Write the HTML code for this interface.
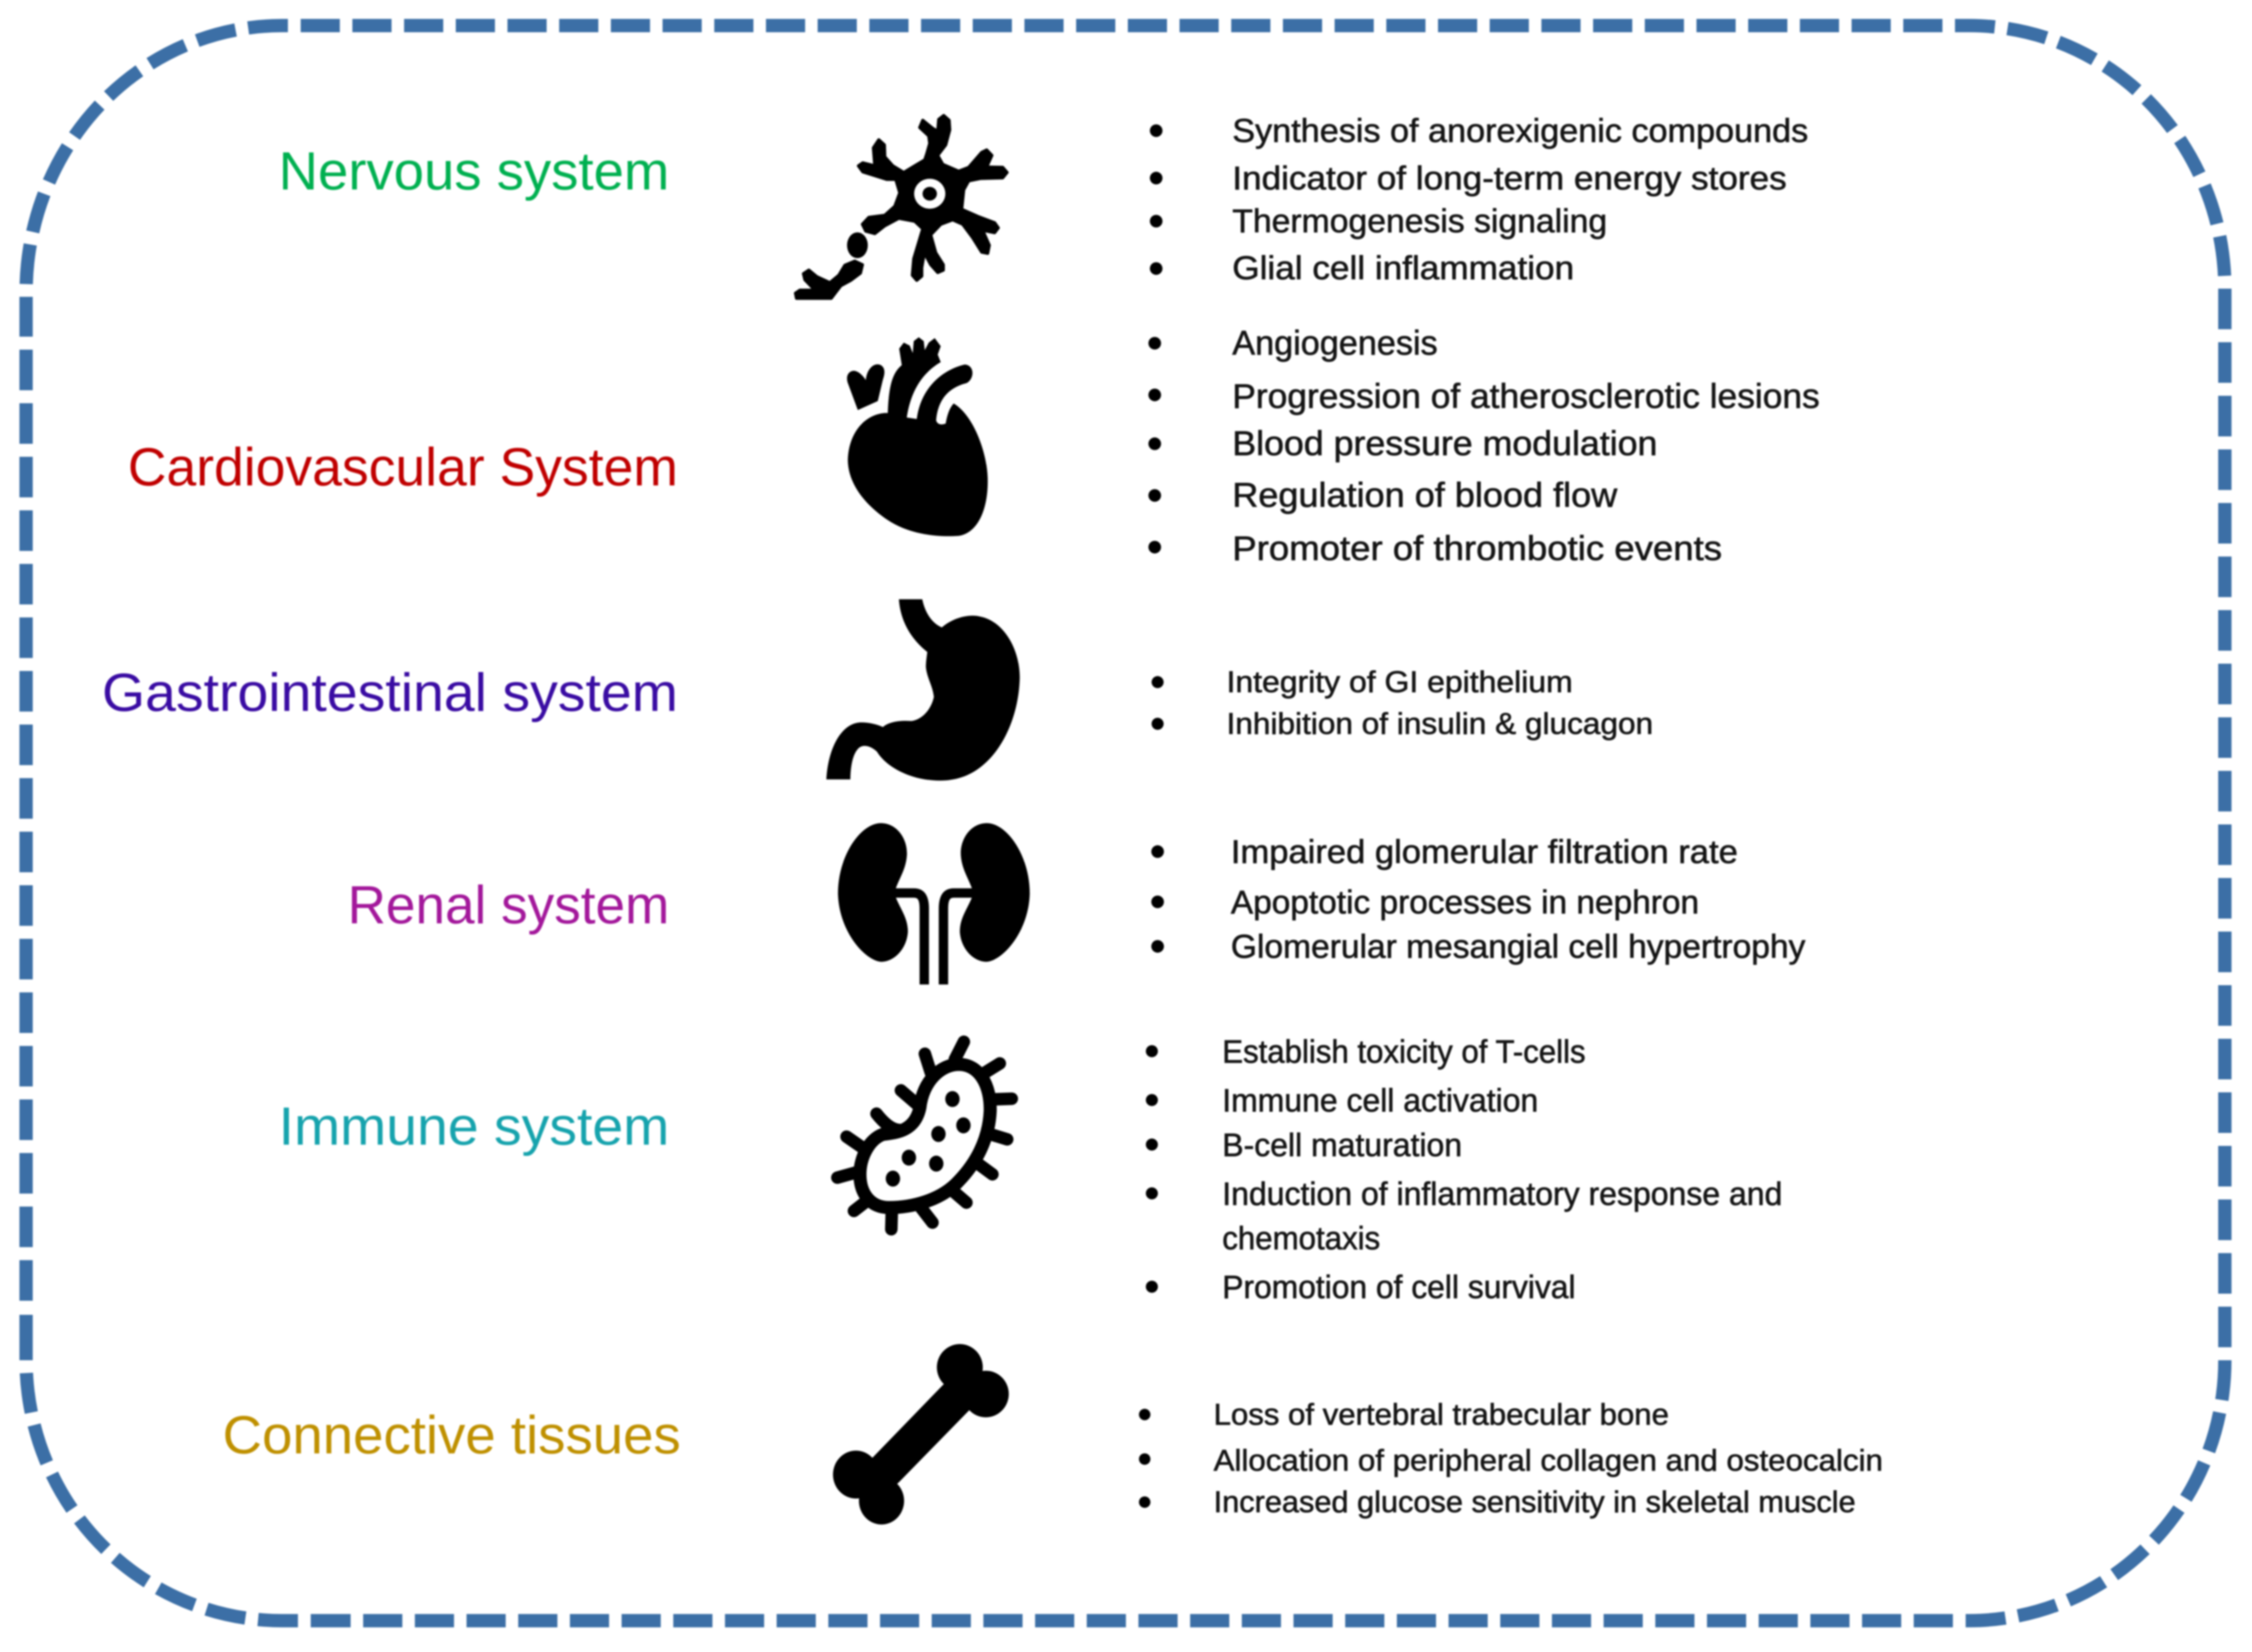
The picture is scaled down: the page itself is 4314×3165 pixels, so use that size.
<!DOCTYPE html>
<html><head><meta charset="utf-8"><style>
html,body{margin:0;padding:0;background:#fff}
svg{display:block;filter:blur(1.5px)}
text{font-family:"Liberation Sans",sans-serif}
.l{font-size:37.5px}
.b text{fill:#141414;stroke:#141414;stroke-width:.38px}
.s{fill:none;stroke:#000;stroke-linecap:round;stroke-linejoin:round;vector-effect:non-scaling-stroke}
.w{stroke-width:24px}
.o{stroke:#000;stroke-width:6px;stroke-linejoin:round;vector-effect:non-scaling-stroke}
.d{fill:none;stroke:#3c6fa6;stroke-width:25.5;stroke-dasharray:75 24}
</style></head><body>
<svg xmlns="http://www.w3.org/2000/svg" width="4314" height="3165" viewBox="0 0 4314 3165">
<rect width="4314" height="3165" fill="#fff"/>
<path class="d" pathLength="3168" d="M576,49 L3745,49"/>
<path class="d" pathLength="792" d="M3745,49 L3772,49 A490,504 0 0 1 4262,553"/>
<path class="d" pathLength="1980" d="M4262,553 L4262,2606"/>
<path class="d" pathLength="792" d="M4262,2606 A490,499 0 0 1 3772,3105 L3741,3105"/>
<path class="d" pathLength="3069" d="M3741,3105 L671.7,3105"/>
<path class="d" pathLength="891" d="M671.7,3105 L540,3105 A490,499 0 0 1 50,2606"/>
<path fill="none" stroke="#3c6fa6" stroke-width="25.5" d="M50,2606 L50,2519"/>
<path class="d" pathLength="1782" d="M50,2492 L50,645"/>
<path class="d" pathLength="891" d="M50,645 L50,560 A490,511 0 0 1 540,49 L576,49"/>

<g transform="scale(2.7513)">
<g class="l">
<text x="194" y="132" fill="#00b050" textLength="272" lengthAdjust="spacingAndGlyphs">Nervous system</text>
<text x="89" y="338" fill="#c00000" textLength="383" lengthAdjust="spacingAndGlyphs">Cardiovascular System</text>
<text x="71" y="495" fill="#3a0ca3" textLength="401" lengthAdjust="spacingAndGlyphs">Gastrointestinal system</text>
<text x="242" y="643" fill="#a3189b" textLength="224" lengthAdjust="spacingAndGlyphs">Renal system</text>
<text x="194" y="797" fill="#16a3ad" textLength="272" lengthAdjust="spacingAndGlyphs">Immune system</text>
<text x="155" y="1012" fill="#bf9000" textLength="319" lengthAdjust="spacingAndGlyphs">Connective tissues</text>
</g>
<g class="b">
<g font-size="22.9">
<text x="858" y="98.8" textLength="401" lengthAdjust="spacingAndGlyphs">Synthesis of anorexigenic compounds</text>
<text x="858" y="132" textLength="386" lengthAdjust="spacingAndGlyphs">Indicator of long-term energy stores</text>
<text x="858" y="161.8" textLength="261" lengthAdjust="spacingAndGlyphs">Thermogenesis signaling</text>
<text x="858" y="194.5" textLength="238" lengthAdjust="spacingAndGlyphs">Glial cell inflammation</text>
</g>
<g font-size="24">
<text x="858" y="247" textLength="143" lengthAdjust="spacingAndGlyphs">Angiogenesis</text>
<text x="858" y="284" textLength="409" lengthAdjust="spacingAndGlyphs">Progression of atherosclerotic lesions</text>
<text x="858" y="317" textLength="296" lengthAdjust="spacingAndGlyphs">Blood pressure modulation</text>
<text x="858" y="353" textLength="268" lengthAdjust="spacingAndGlyphs">Regulation of blood flow</text>
<text x="858" y="390" textLength="341" lengthAdjust="spacingAndGlyphs">Promoter of thrombotic events</text>
</g>
<g font-size="21">
<text x="854" y="482" textLength="241" lengthAdjust="spacingAndGlyphs">Integrity of GI epithelium</text>
<text x="854" y="511" textLength="297" lengthAdjust="spacingAndGlyphs">Inhibition of insulin &amp; glucagon</text>
</g>
<g font-size="23">
<text x="857" y="601" textLength="353" lengthAdjust="spacingAndGlyphs">Impaired glomerular filtration rate</text>
<text x="857" y="636" textLength="326" lengthAdjust="spacingAndGlyphs">Apoptotic processes in nephron</text>
<text x="857" y="667" textLength="400" lengthAdjust="spacingAndGlyphs">Glomerular mesangial cell hypertrophy</text>
</g>
<g font-size="22.5">
<text x="851" y="740" textLength="253" lengthAdjust="spacingAndGlyphs">Establish toxicity of T-cells</text>
<text x="851" y="774" textLength="220" lengthAdjust="spacingAndGlyphs">Immune cell activation</text>
<text x="851" y="805" textLength="167" lengthAdjust="spacingAndGlyphs">B-cell maturation</text>
<text x="851" y="839" textLength="390" lengthAdjust="spacingAndGlyphs">Induction of inflammatory response and</text>
<text x="851" y="870" textLength="110" lengthAdjust="spacingAndGlyphs">chemotaxis</text>
<text x="851" y="904" textLength="246" lengthAdjust="spacingAndGlyphs">Promotion of cell survival</text>
</g>
<g font-size="21">
<text x="845" y="992" textLength="317" lengthAdjust="spacingAndGlyphs">Loss of vertebral trabecular bone</text>
<text x="845" y="1024" textLength="466" lengthAdjust="spacingAndGlyphs">Allocation of peripheral collagen and osteocalcin</text>
<text x="845" y="1053" textLength="447" lengthAdjust="spacingAndGlyphs">Increased glucose sensitivity in skeletal muscle</text>
</g>
</g>
<g fill="#000">
<circle cx="805" cy="91" r="4.4"/><circle cx="805" cy="124" r="4.4"/><circle cx="805" cy="154" r="4.4"/><circle cx="805" cy="187" r="4.4"/>
<circle cx="804" cy="239" r="4.4"/><circle cx="804" cy="275" r="4.4"/><circle cx="804" cy="309" r="4.4"/><circle cx="804" cy="345" r="4.4"/><circle cx="804" cy="381" r="4.4"/>
<circle cx="806" cy="475" r="4.2"/><circle cx="806" cy="504" r="4.2"/>
<circle cx="806" cy="593" r="4.4"/><circle cx="806" cy="628" r="4.4"/><circle cx="806" cy="659" r="4.4"/>
<circle cx="802" cy="732" r="4.2"/><circle cx="802" cy="766" r="4.2"/><circle cx="802" cy="797" r="4.2"/><circle cx="802" cy="831" r="4.2"/><circle cx="802" cy="896" r="4.2"/>
<circle cx="797" cy="985" r="4"/><circle cx="797" cy="1016" r="4"/><circle cx="797" cy="1046" r="4"/>
</g>
</g>

<!-- neuron + heart -->
<g transform="translate(1450,180) scale(.3827,.574)">
<polygon class="o" points="850,200 865,165 860,140 815,112 830,88 880,115 905,125 910,85 935,72 962,88 965,120 945,170 905,205 930,235 1010,258 1060,245 1125,195 1150,187 1176,205 1150,244 1230,245 1252,262 1230,280 1120,282 1060,290 1035,320 1025,385 1110,410 1190,430 1208,447 1190,463 1130,455 1163,505 1155,532 1125,528 1080,480 1030,435 980,420 920,435 870,470 895,530 933,570 933,588 905,596 870,570 838,530 825,580 825,608 800,622 778,605 785,550 830,450 790,425 710,415 640,440 590,466 545,458 528,435 560,412 640,405 690,375 715,330 695,285 650,285 530,260 508,240 530,230 590,240 583,180 610,153 638,170 640,210 680,240 735,262 790,240 840,220"/>
<polygon class="o" points="528,570 518,598 470,622 420,640 372,682 198,682 193,665 215,655 290,655 240,620 233,600 260,588 300,610 365,630 410,605 440,572 490,558"/>
<ellipse cx="503" cy="505" rx="52" ry="43"/>
<ellipse cx="865" cy="333" rx="78" ry="50" fill="#fff"/>
<ellipse cx="865" cy="333" rx="36" ry="23"/>
<path d="M640,1065 C540,1070 460,1130 455,1220 C455,1300 540,1370 650,1420 C760,1470 900,1480 1010,1475 C1110,1465 1160,1380 1155,1280 C1150,1190 1080,1070 985,1033 C960,1050 950,1080 945,1100 C925,1105 905,1105 897,1090 C905,1020 960,980 1050,965 C1090,950 1090,905 1040,903 C930,920 820,980 800,1085 L750,1080 C770,990 830,930 920,895 L905,870 L920,842 L890,815 L860,830 L840,855 L835,825 L810,812 L785,825 L780,865 L765,840 L735,830 L712,850 L725,905 C680,930 660,970 655,1065 Z"/>
<path d="M505,1055 L455,965 C440,935 470,920 495,925 C520,930 540,950 545,955 C550,915 590,895 620,905 C645,915 640,935 630,955 L605,1025 Z"/>
</g>

<!-- stomach + kidneys -->
<g transform="translate(1500,1100) scale(.3827,.523)">
<path d="M580,92 L697,92 C710,140 745,180 795,195 C850,160 930,145 985,155 C1100,170 1185,270 1185,380 C1180,520 1100,640 1000,700 C920,750 830,760 750,755 C640,750 520,710 470,650 C440,630 400,620 375,640 C350,660 338,700 337,752 L217,752 C225,640 290,545 390,543 C430,543 470,550 500,560 C530,540 590,535 640,538 C690,535 740,500 755,450 C750,410 720,380 715,340 C715,320 720,300 722,285 C680,260 590,200 580,92 Z"/>
<path d="M490,912 C570,912 625,970 620,1030 C615,1080 585,1110 565,1150 L565,1185 C590,1230 625,1260 625,1310 C620,1370 560,1420 490,1420 C410,1415 280,1310 275,1170 C275,1030 390,912 490,912 Z"/>
<path style="fill:none;stroke:#000;stroke-width:18px;vector-effect:non-scaling-stroke" d="M550,1168 L655,1168 C695,1168 707,1190 707,1225 L707,1503"/>
<g transform="translate(1510,0) scale(-1,1)">
<path d="M490,912 C570,912 625,970 620,1030 C615,1080 585,1110 565,1150 L565,1185 C590,1230 625,1260 625,1310 C620,1370 560,1420 490,1420 C410,1415 280,1310 275,1170 C275,1030 390,912 490,912 Z"/>
<path style="fill:none;stroke:#000;stroke-width:18px;vector-effect:non-scaling-stroke" d="M550,1168 L655,1168 C695,1168 707,1190 707,1225 L707,1503"/>
</g>
</g>

<!-- bacterium + bone -->
<g transform="translate(1500,1950) scale(.3827,.6378)">
<path class="s w" d="M905,72 L860,125"/>
<path class="s w" d="M710,108 L740,165"/>
<path class="s w" d="M1085,137 L1010,165"/>
<path class="s w" d="M1145,243 L1050,245"/>
<path class="s w" d="M1122,365 L1040,350"/>
<path class="s w" d="M1048,470 L980,440"/>
<path class="s w" d="M918,555 L850,520"/>
<path class="s w" d="M748,615 L690,570"/>
<path class="s w" d="M542,635 L545,570"/>
<path class="s w" d="M355,580 L430,545"/>
<path class="s w" d="M272,480 L380,462"/>
<path class="s w" d="M318,357 L410,395"/>
<path class="s w" d="M468,288 C510,320 560,345 610,335"/>
<path class="s w" d="M590,218 L675,262"/>
<path style="fill:#fff;stroke:#000;stroke-width:25px;vector-effect:non-scaling-stroke" d="M385,470 C385,420 430,365 500,350 C570,345 660,340 685,270 C700,190 790,140 880,140 C980,140 1040,200 1037,280 C1030,370 960,440 880,490 C790,550 640,570 530,570 C440,570 385,530 385,470 Z"/>
<ellipse cx="848" cy="244" rx="36" ry="24"/><ellipse cx="903" cy="323" rx="36" ry="24"/><ellipse cx="778" cy="349" rx="36" ry="24"/><ellipse cx="630" cy="420" rx="36" ry="24"/><ellipse cx="767" cy="438" rx="36" ry="24"/><ellipse cx="550" cy="483" rx="36" ry="24"/>
<ellipse cx="885" cy="1050" rx="115" ry="70"/><ellipse cx="1015" cy="1130" rx="115" ry="70"/><ellipse cx="365" cy="1372" rx="115" ry="72"/><ellipse cx="493" cy="1451" rx="113" ry="71"/>
<path d="M400,1340 L450,1320 L805,1100 L900,1050 L1010,1130 L930,1180 L580,1395 L480,1450 L360,1370 Z"/>
</g>
</svg>
</body></html>
